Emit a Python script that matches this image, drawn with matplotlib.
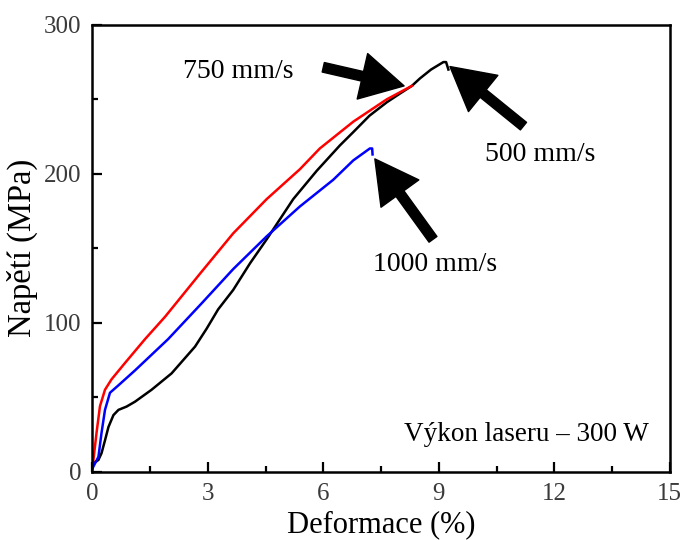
import matplotlib
matplotlib.use("Agg")
import matplotlib.pyplot as plt
from matplotlib.ticker import MultipleLocator

plt.rcParams["font.family"] = ["Liberation Serif", "DejaVu Serif"]

# stress-strain curves (strain %, stress MPa)
x_750 = [0, 0.03, 0.11, 0.2, 0.33, 0.5, 0.85, 1.37, 1.89, 2.8, 3.66, 4.53,
         5.39, 5.91, 6.78, 7.65, 8.3]
y_750 = [3, 8, 26, 44, 55, 62, 73, 89, 104, 133, 160, 183,
         203, 217, 235, 250, 259]

x_1000 = [0, 0.03, 0.16, 0.24, 0.33, 0.46, 0.68, 1.11, 1.97, 2.84, 3.66,
          4.53, 5.39, 6.26, 6.78, 7.21, 7.27, 7.28]
y_1000 = [2, 3.5, 10, 26, 41.5, 53, 58, 68, 89, 113, 136,
          158, 178, 196, 209, 217, 217, 213]

x_500 = [0, 0.03, 0.16, 0.24, 0.33, 0.42, 0.55, 0.68, 0.89, 1.11, 1.54,
         2.06, 2.67, 2.97, 3.27, 3.66, 4.1, 4.53, 5.22, 5.83, 6.43, 6.78,
         7.2, 7.65, 8.0, 8.3, 8.51, 8.8, 9.12, 9.19, 9.25]
y_500 = [3, 5.6, 7.9, 12.4, 21, 30, 38, 41.5, 43.7, 47, 55,
         66, 84, 96, 109, 122, 140, 156, 183, 202, 219, 228,
         239, 248, 254, 259, 264, 270, 275, 275, 270]

# label text, text anchor, arrow tail, arrow tip
labels = ["750 mm/s", "500 mm/s", "1000 mm/s"]
label_pos = [(2.36, 269), (10.2, 213), (7.28, 139)]
arrow_tail = [(6.0, 271.5), (11.2, 232), (8.85, 156)]
arrow_tip = [(8.1, 259), (9.29, 272), (7.34, 210)]

fig = plt.figure(figsize=(6.81, 5.4), dpi=100)
ax = fig.add_axes([0.1355, 0.1265, 0.848, 0.8275])

ax.plot(x_500, y_500, color="black", lw=1.8)
ax.plot(x_750, y_750, color="#ff0000", lw=1.8)
ax.plot(x_1000, y_1000, color="#0000ff", lw=1.8)

for text, pos, tail, tip in zip(labels, label_pos, arrow_tail, arrow_tip):
    ax.text(pos[0], pos[1], text, fontsize=20, ha="left", va="center")
    ax.annotate("", xy=tip, xytext=tail,
                arrowprops=dict(arrowstyle="simple,head_length=2.2,head_width=2.4,tail_width=0.5",
                                mutation_scale=14, color="black",
                                shrinkA=0, shrinkB=0))

ax.text(14.45, 25, "Výkon laseru – 300 W", fontsize=19.5, ha="right", va="center")

ax.set_xlim(0, 15)
ax.set_ylim(0, 300)
ax.xaxis.set_major_locator(MultipleLocator(3))
ax.xaxis.set_minor_locator(MultipleLocator(1.5))
ax.yaxis.set_major_locator(MultipleLocator(100))
ax.yaxis.set_minor_locator(MultipleLocator(50))
ax.tick_params(which="both", direction="in", top=False, right=False,
               width=1.6, labelsize=18, labelcolor="#3a3a3a", pad=8)
ax.tick_params(which="major", length=7)
ax.tick_params(which="minor", length=4)
for s in ax.spines.values():
    s.set_linewidth(1.8)

ax.set_xlabel("Deformace (%)", fontsize=22, labelpad=4)
ax.set_ylabel("Napětí (MPa)", fontsize=23.5, labelpad=4)

fig.savefig("out.png", dpi=100)
